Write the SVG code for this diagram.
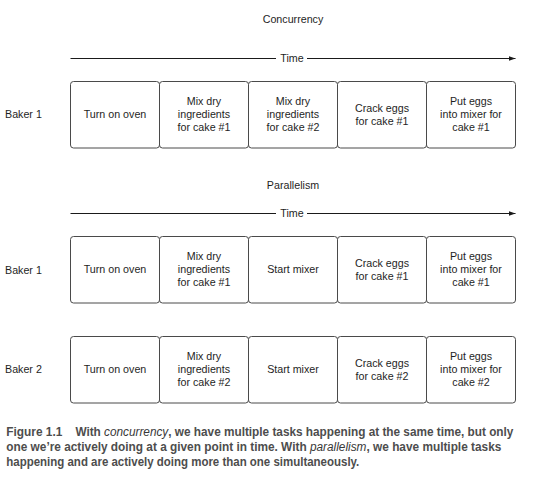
<svg xmlns="http://www.w3.org/2000/svg" width="547" height="489" viewBox="0 0 547 489">
<style>
.bg{fill:#ffffff}
.box{fill:#ffffff;stroke:#4a4a4a;stroke-width:1}
.t{font-family:"Liberation Sans",Arial,sans-serif;font-size:10.7px;fill:#1e1e1e;text-anchor:middle}
.lbl{font-family:"Liberation Sans",Arial,sans-serif;font-size:10.7px;fill:#1e1e1e}
.axis{stroke:#1a1a1a;stroke-width:1;fill:none}
.cap{font-family:"Liberation Sans",Arial,sans-serif;font-size:12px;font-weight:bold;fill:#4d4d4d}
.it{font-style:italic;font-weight:normal;fill:#383838}
</style>
<defs>
<marker id="arrow" markerUnits="userSpaceOnUse" markerWidth="8" markerHeight="6" refX="7" refY="2.5" orient="auto">
<path d="M0,0 L7,2.5 L0,5 z" fill="#1a1a1a"/>
</marker>
</defs>
<rect class="bg" x="0" y="0" width="547" height="489"/>

<text class="t" x="293" y="23">Concurrency</text>
<text class="t" x="292" y="62">Time</text>
<text class="lbl" x="5" y="118">Baker 1</text>

<text class="t" x="293" y="189">Parallelism</text>
<text class="t" x="292" y="217">Time</text>
<text class="lbl" x="5" y="274">Baker 1</text>
<text class="lbl" x="5" y="373">Baker 2</text>

<g id="connectors">
<line class="axis" x1="70.5" y1="58.5" x2="276" y2="58.5"/>
<line class="axis" x1="307" y1="58.5" x2="515.5" y2="58.5" marker-end="url(#arrow)"/>
<line class="axis" x1="70.5" y1="213.5" x2="276" y2="213.5"/>
<line class="axis" x1="307" y1="213.5" x2="515.5" y2="213.5" marker-end="url(#arrow)"/>
</g>

<!-- Concurrency row -->
<g id="c1-oven"><rect class="box" x="70.5" y="81.5" width="89" height="66.5" rx="3"/><text class="t" x="115" y="118.3">Turn on oven</text></g>
<g id="c1-mix1"><rect class="box" x="159.5" y="81.5" width="89" height="66.5" rx="3"/><text class="t" x="204" y="105.3">Mix dry</text><text class="t" x="204" y="118.3">ingredients</text><text class="t" x="204" y="131.3">for cake #1</text></g>
<g id="c1-mix2"><rect class="box" x="248.5" y="81.5" width="89" height="66.5" rx="3"/><text class="t" x="293" y="105.3">Mix dry</text><text class="t" x="293" y="118.3">ingredients</text><text class="t" x="293" y="131.3">for cake #2</text></g>
<g id="c1-crack"><rect class="box" x="337.5" y="81.5" width="89" height="66.5" rx="3"/><text class="t" x="382" y="111.8">Crack eggs</text><text class="t" x="382" y="124.8">for cake #1</text></g>
<g id="c1-put"><rect class="box" x="426.5" y="81.5" width="89" height="66.5" rx="3"/><text class="t" x="471" y="105.3">Put eggs</text><text class="t" x="471" y="118.3">into mixer for</text><text class="t" x="471" y="131.3">cake #1</text></g>

<!-- Parallelism baker 1 -->
<g id="p1-oven"><rect class="box" x="70.5" y="236.5" width="89" height="66.5" rx="3"/><text class="t" x="115" y="273.3">Turn on oven</text></g>
<g id="p1-mix"><rect class="box" x="159.5" y="236.5" width="89" height="66.5" rx="3"/><text class="t" x="204" y="260.3">Mix dry</text><text class="t" x="204" y="273.3">ingredients</text><text class="t" x="204" y="286.3">for cake #1</text></g>
<g id="p1-start"><rect class="box" x="248.5" y="236.5" width="89" height="66.5" rx="3"/><text class="t" x="293" y="273.3">Start mixer</text></g>
<g id="p1-crack"><rect class="box" x="337.5" y="236.5" width="89" height="66.5" rx="3"/><text class="t" x="382" y="266.8">Crack eggs</text><text class="t" x="382" y="279.8">for cake #1</text></g>
<g id="p1-put"><rect class="box" x="426.5" y="236.5" width="89" height="66.5" rx="3"/><text class="t" x="471" y="260.3">Put eggs</text><text class="t" x="471" y="273.3">into mixer for</text><text class="t" x="471" y="286.3">cake #1</text></g>

<!-- Parallelism baker 2 -->
<g id="p2-oven"><rect class="box" x="70.5" y="336.5" width="89" height="66.5" rx="3"/><text class="t" x="115" y="373.3">Turn on oven</text></g>
<g id="p2-mix"><rect class="box" x="159.5" y="336.5" width="89" height="66.5" rx="3"/><text class="t" x="204" y="360.3">Mix dry</text><text class="t" x="204" y="373.3">ingredients</text><text class="t" x="204" y="386.3">for cake #2</text></g>
<g id="p2-start"><rect class="box" x="248.5" y="336.5" width="89" height="66.5" rx="3"/><text class="t" x="293" y="373.3">Start mixer</text></g>
<g id="p2-crack"><rect class="box" x="337.5" y="336.5" width="89" height="66.5" rx="3"/><text class="t" x="382" y="366.8">Crack eggs</text><text class="t" x="382" y="379.8">for cake #2</text></g>
<g id="p2-put"><rect class="box" x="426.5" y="336.5" width="89" height="66.5" rx="3"/><text class="t" x="471" y="360.3">Put eggs</text><text class="t" x="471" y="373.3">into mixer for</text><text class="t" x="471" y="386.3">cake #2</text></g>

<!-- Caption -->
<text class="cap" x="6.3" y="436" textLength="56" lengthAdjust="spacingAndGlyphs">Figure 1.1</text>
<text class="cap" x="75.4" y="436" textLength="438" lengthAdjust="spacingAndGlyphs">With <tspan class="it">concurrency</tspan>, we have multiple tasks happening at the same time, but only</text>
<text class="cap" x="6.3" y="451" textLength="495" lengthAdjust="spacingAndGlyphs">one we’re actively doing at a given point in time. With <tspan class="it">parallelism</tspan>, we have multiple tasks</text>
<text class="cap" x="6.3" y="466" textLength="353" lengthAdjust="spacingAndGlyphs">happening and are actively doing more than one simultaneously.</text>
</svg>
